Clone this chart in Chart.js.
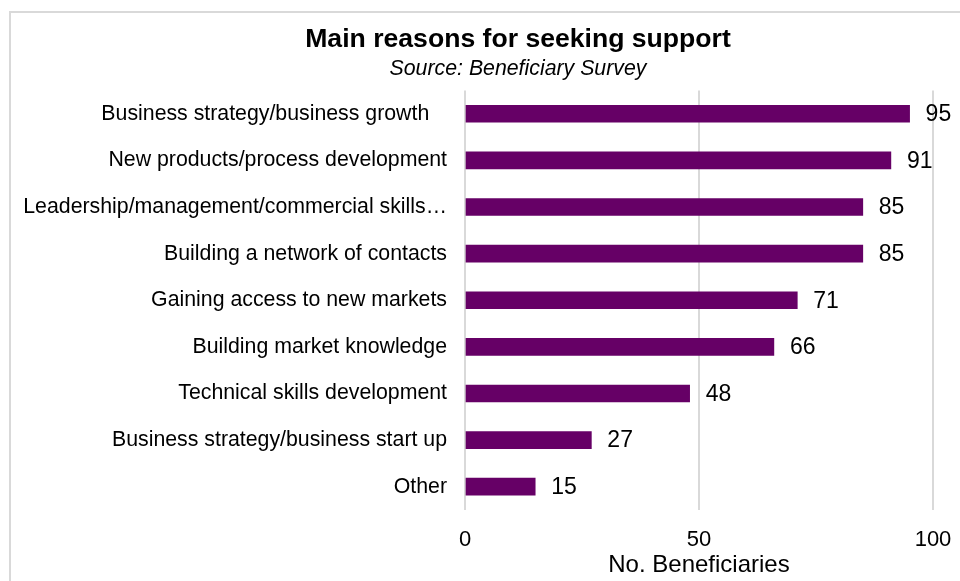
<!DOCTYPE html>
<html>
<head>
<meta charset="utf-8">
<title>Main reasons for seeking support</title>
<script src="https://cdn.jsdelivr.net/npm/chart.js@4/dist/chart.umd.min.js"></script>
<style>
  html, body { margin: 0; padding: 0; background: #fff; overflow: hidden; width: 960px; height: 581px; }
  #frame {
    position: absolute; left: 9px; top: 11px;
    width: 1014px; height: 600px;
    border: 2px solid #d9d9d9; background: #fff;
  }
  canvas { display: block; }
</style>
</head>
<body>
<div id="frame"><canvas id="chart" width="1014" height="600"></canvas></div>
<script>
// Reasons given by beneficiaries, in the order shown (largest first)
const categories = [
  "Business strategy/business growth   ",
  "New products/process development",
  "Leadership/management/commercial skills\u2026",
  "Building a network of contacts",
  "Gaining access to new markets",
  "Building market knowledge",
  "Technical skills development",
  "Business strategy/business start up",
  "Other"
];
const beneficiaries = [95, 91, 85, 85, 71, 66, 48, 27, 15];
const xTicks = [0, 50, 100];

const FONT = "'Liberation Sans', Arial, sans-serif";
Chart.defaults.font.family = FONT;
Chart.defaults.color = '#000';

// Writes each bar's value just past its end
const valueLabels = {
  id: 'valueLabels',
  afterDatasetsDraw(chart) {
    const ctx = chart.ctx;
    const meta = chart.getDatasetMeta(0);
    const data = chart.data.datasets[0].data;
    ctx.save();
    ctx.font = '23px ' + FONT;
    ctx.fillStyle = '#000';
    ctx.textAlign = 'left';
    ctx.textBaseline = 'middle';
    meta.data.forEach((bar, i) => {
      ctx.fillText(String(data[i]), bar.x + 16, bar.y + 1);
    });
    ctx.restore();
  }
};

new Chart(document.getElementById('chart'), {
  type: 'bar',
  data: {
    labels: categories,
    datasets: [{
      data: beneficiaries,
      backgroundColor: '#660066',
      borderWidth: 0,
      barThickness: 17
    }]
  },
  options: {
    indexAxis: 'y',
    responsive: false,
    animation: false,
    layout: { padding: { top: 0, left: 0, right: 0, bottom: 33 } },
    plugins: {
      legend: { display: false },
      tooltip: { enabled: false },
      title: {
        display: true,
        text: 'Main reasons for seeking support',
        font: { size: 26.6, weight: 'bold', family: FONT },
        color: '#000',
        padding: { top: 11, bottom: 0 }
      },
      subtitle: {
        display: true,
        text: 'Source: Beneficiary Survey',
        font: { size: 21.3, style: 'italic', family: FONT },
        color: '#000',
        padding: { top: 0, bottom: 9 }
      }
    },
    scales: {
      x: {
        type: 'linear',
        min: 0,
        max: 100,
        afterBuildTicks(scale) {
          scale.ticks = xTicks.map(v => ({ value: v }));
        },
        afterFit(scale) { scale.height = 70; },
        grid: { color: '#d9d9d9', lineWidth: 2, drawTicks: false },
        border: { display: false },
        ticks: { font: { size: 22 }, color: '#000', padding: 17, maxRotation: 0 },
        title: {
          display: true,
          text: 'No. Beneficiaries',
          font: { size: 24 },
          color: '#000',
          padding: { top: 0, bottom: 0 }
        }
      },
      y: {
        afterFit(scale) { scale.width = 454; },
        grid: { display: false, drawTicks: false },
        border: { display: false },
        ticks: { font: { size: 21.3 }, color: '#000', padding: 18, autoSkip: false }
      },
      // blank margin to the right of the plot, room for the value labels
      rightMargin: {
        type: 'linear',
        position: 'right',
        afterFit(scale) { scale.width = 92; },
        grid: { display: false, drawTicks: false },
        border: { display: false },
        ticks: { display: false }
      }
    }
  },
  plugins: [valueLabels]
});
</script>
</body>
</html>
